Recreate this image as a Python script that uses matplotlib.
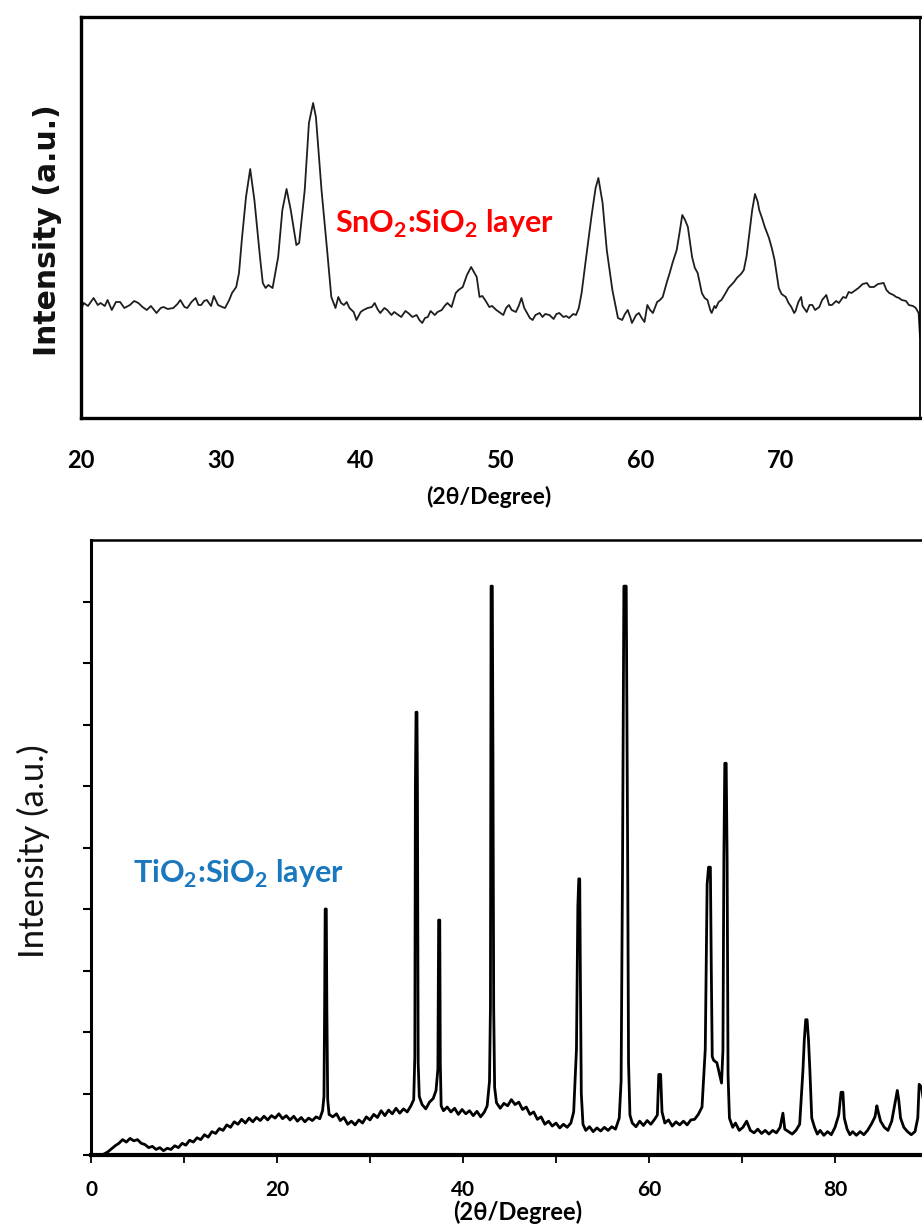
import matplotlib
matplotlib.use("Agg")
import matplotlib.pyplot as plt

# ---------------- data: SnO2:SiO2 layer (top panel) ----------------
sn_theta = [20.0, 20.1, 20.2, 20.5, 20.9, 21.2, 21.4, 21.7, 21.9, 22.2, 22.5, 22.8, 23.1, 23.5,
            23.8, 24.1, 24.4, 24.7, 25.0, 25.4, 25.7, 25.9, 26.2, 26.6, 26.9, 27.1, 27.4, 27.6,
            27.9, 28.2, 28.4, 28.6, 28.8, 29.0, 29.3, 29.5, 29.8, 30.1, 30.3, 30.6, 30.8, 31.1,
            31.3, 31.5, 31.8, 32.1, 32.4, 32.8, 33.0, 33.2, 33.4, 33.7, 34.1, 34.4, 34.7, 35.0,
            35.4, 35.6, 36.0, 36.3, 36.6, 36.8, 37.2, 37.6, 37.9, 38.2, 38.4, 38.6, 38.8, 39.0,
            39.2, 39.5, 39.7, 40.0, 40.2, 40.5, 40.8, 41.0, 41.2, 41.4, 41.7, 41.9, 42.2, 42.4,
            42.7, 42.9, 43.2, 43.4, 43.7, 44.0, 44.2, 44.4, 44.6, 44.8, 45.0, 45.3, 45.5, 45.8,
            46.0, 46.2, 46.5, 46.8, 47.0, 47.3, 47.6, 47.9, 48.3, 48.5, 48.7, 48.9, 49.2, 49.4,
            49.7, 49.9, 50.2, 50.4, 50.6, 50.8, 51.1, 51.3, 51.5, 51.7, 51.9, 52.1, 52.3, 52.5,
            52.8, 53.0, 53.2, 53.5, 53.8, 54.0, 54.2, 54.5, 54.7, 54.9, 55.2, 55.4, 55.6, 55.8,
            56.1, 56.5, 56.8, 57.0, 57.3, 57.6, 58.0, 58.4, 58.7, 58.9, 59.1, 59.3, 59.4, 59.7,
            59.9, 60.1, 60.3, 60.5, 60.7, 60.9, 61.2, 61.4, 61.6, 61.9, 62.1, 62.3, 62.6, 62.8,
            63.0, 63.2, 63.4, 63.7, 63.9, 64.1, 64.4, 64.6, 64.8, 65.0, 65.1, 65.3, 65.4, 65.6,
            65.8, 66.1, 66.3, 66.5, 66.7, 66.9, 67.2, 67.4, 67.6, 67.8, 68.0, 68.2, 68.4, 68.5,
            68.7, 68.9, 69.2, 69.4, 69.6, 69.9, 70.1, 70.4, 70.6, 70.8, 71.0, 71.1, 71.3, 71.5,
            71.6, 71.9, 72.1, 72.3, 72.5, 72.8, 73.0, 73.3, 73.5, 73.7, 74.0, 74.2, 74.5, 74.7,
            74.9, 75.1, 75.4, 75.6, 75.9, 76.2, 76.4, 76.7, 77.0, 77.4, 77.6, 77.8, 78.1, 78.3,
            78.5, 78.7, 79.0, 79.2, 79.5, 79.7, 79.9, 80.0]
sn_int = [105, 112, 115, 112, 120, 113, 115, 112, 118, 108, 116, 116, 110, 113,
          117, 115, 111, 108, 112, 105, 110, 111, 109, 110, 114, 118, 111, 110,
          116, 120, 113, 113, 117, 118, 112, 122, 113, 111, 110, 118, 125, 131,
          145, 178, 221, 249, 218, 161, 135, 130, 133, 130, 161, 208, 229, 208,
          173, 175, 228, 295, 315, 301, 228, 168, 121, 110, 121, 115, 113, 116,
          110, 106, 98, 106, 108, 110, 111, 115, 109, 105, 110, 108, 103, 106,
          103, 101, 107, 105, 101, 103, 98, 95, 100, 101, 107, 103, 106, 108,
          112, 115, 111, 125, 128, 131, 143, 151, 141, 121, 122, 118, 111, 112,
          108, 106, 103, 110, 113, 108, 106, 112, 120, 110, 105, 100, 98, 103,
          105, 101, 104, 103, 99, 104, 105, 101, 102, 100, 104, 103, 110, 125,
          158, 201, 230, 240, 215, 168, 128, 100, 98, 104, 108, 100, 95, 103,
          105, 100, 96, 113, 108, 105, 116, 118, 121, 136, 145, 155, 168, 185,
          203, 198, 191, 161, 150, 145, 125, 120, 118, 108, 105, 112, 110, 116,
          118, 125, 130, 133, 136, 140, 144, 148, 162, 185, 208, 224, 216, 208,
          200, 191, 180, 170, 158, 130, 124, 121, 115, 111, 105, 107, 116, 121,
          112, 106, 113, 113, 108, 111, 118, 123, 113, 113, 117, 115, 121, 120,
          126, 125, 128, 130, 134, 135, 131, 131, 134, 135, 128, 125, 123, 121,
          120, 118, 117, 113, 112, 110, 105, 81]
sn_ticks = [20, 30, 40, 50, 60, 70]

# ---------------- data: TiO2:SiO2 layer (bottom panel), (2theta, intensity) ----------------
ti_points = [
    (1.2, 0.00), (1.8, 0.05), (2.2, 0.10), (2.6, 0.15), (3.0, 0.19), (3.4, 0.25), (3.8, 0.21),
    (4.2, 0.27), (4.6, 0.23), (5.0, 0.25), (5.4, 0.19), (5.8, 0.17), (6.2, 0.12), (6.6, 0.14),
    (7.0, 0.09), (7.4, 0.12), (7.8, 0.07), (8.2, 0.11), (8.6, 0.09), (9.0, 0.15), (9.4, 0.12),
    (9.8, 0.19), (10.2, 0.16), (10.6, 0.24), (11.0, 0.21), (11.4, 0.28), (11.8, 0.25),
    (12.2, 0.33), (12.6, 0.29), (13.0, 0.38), (13.4, 0.35), (13.8, 0.43), (14.2, 0.40),
    (14.6, 0.49), (15.0, 0.45), (15.4, 0.54), (15.8, 0.50), (16.2, 0.58), (16.6, 0.52),
    (17.0, 0.60), (17.4, 0.54), (17.8, 0.61), (18.2, 0.56), (18.6, 0.63), (19.0, 0.57),
    (19.4, 0.64), (19.8, 0.60), (20.2, 0.67), (20.6, 0.59), (21.0, 0.64), (21.4, 0.57),
    (21.8, 0.63), (22.2, 0.55), (22.6, 0.61), (23.0, 0.54), (23.4, 0.60), (23.8, 0.56),
    (24.2, 0.62), (24.6, 0.59), (24.9, 0.72), (25.05, 0.95), (25.12, 2.40), (25.18, 4.00),
    (25.30, 4.00), (25.36, 2.40), (25.45, 0.90), (25.6, 0.66), (26.0, 0.62), (26.4, 0.67),
    (26.8, 0.56), (27.2, 0.61), (27.6, 0.50), (28.0, 0.55), (28.4, 0.49), (28.8, 0.57),
    (29.2, 0.52), (29.6, 0.62), (30.0, 0.57), (30.4, 0.66), (30.8, 0.61), (31.2, 0.72),
    (31.6, 0.64), (32.0, 0.73), (32.4, 0.67), (32.8, 0.76), (33.2, 0.68), (33.6, 0.75),
    (34.0, 0.70), (34.4, 0.80), (34.7, 0.90), (34.82, 1.60), (34.88, 6.00), (34.95, 7.20),
    (35.05, 7.20), (35.10, 6.00), (35.18, 1.50), (35.3, 0.95), (35.6, 0.82), (36.0, 0.75),
    (36.4, 0.86), (36.8, 0.92), (37.1, 1.05), (37.3, 1.40), (37.38, 3.82), (37.50, 3.82),
    (37.56, 1.50), (37.65, 0.80), (37.9, 0.72), (38.3, 0.78), (38.7, 0.70), (39.1, 0.76),
    (39.5, 0.66), (39.9, 0.74), (40.3, 0.67), (40.7, 0.72), (41.1, 0.64), (41.5, 0.71),
    (41.9, 0.62), (42.3, 0.70), (42.6, 0.80), (42.85, 1.20), (42.95, 2.40), (43.02, 9.25),
    (43.15, 9.25), (43.22, 6.50), (43.30, 2.40), (43.40, 1.10), (43.6, 0.85), (44.0, 0.76),
    (44.4, 0.84), (44.8, 0.80), (45.2, 0.90), (45.6, 0.82), (46.0, 0.86), (46.4, 0.74),
    (46.8, 0.78), (47.2, 0.66), (47.6, 0.70), (48.0, 0.58), (48.4, 0.62), (48.8, 0.50),
    (49.2, 0.55), (49.6, 0.47), (50.0, 0.52), (50.4, 0.44), (50.8, 0.50), (51.2, 0.45),
    (51.6, 0.52), (51.9, 0.70), (52.2, 1.72), (52.35, 4.05), (52.45, 4.49), (52.55, 4.49),
    (52.62, 2.94), (52.72, 1.00), (52.9, 0.50), (53.2, 0.40), (53.6, 0.46), (54.0, 0.38),
    (54.4, 0.44), (54.8, 0.39), (55.2, 0.45), (55.6, 0.40), (56.0, 0.46), (56.4, 0.42),
    (56.8, 0.60), (57.0, 1.20), (57.15, 4.60), (57.30, 9.25), (57.55, 9.25), (57.70, 5.04),
    (57.80, 1.50), (57.95, 0.65), (58.2, 0.52), (58.6, 0.46), (59.0, 0.55), (59.4, 0.48),
    (59.8, 0.56), (60.2, 0.50), (60.6, 0.58), (60.9, 0.65), (61.05, 1.31), (61.25, 1.31),
    (61.4, 0.70), (61.7, 0.52), (62.1, 0.57), (62.5, 0.47), (62.9, 0.54), (63.3, 0.49),
    (63.7, 0.55), (64.1, 0.49), (64.5, 0.57), (64.9, 0.58), (65.3, 0.66), (65.7, 0.78),
    (66.05, 1.72), (66.25, 4.40), (66.4, 4.68), (66.6, 4.68), (66.7, 3.00), (66.8, 1.60),
    (66.95, 1.54), (67.3, 1.50), (67.6, 1.30), (67.8, 1.17), (67.95, 1.70), (68.05, 4.80),
    (68.15, 6.37), (68.30, 6.37), (68.40, 4.80), (68.50, 1.30), (68.65, 0.60), (69.0, 0.45),
    (69.3, 0.52), (69.7, 0.40), (70.1, 0.45), (70.5, 0.55), (70.9, 0.40), (71.3, 0.36),
    (71.7, 0.42), (72.1, 0.35), (72.5, 0.40), (72.9, 0.34), (73.3, 0.40), (73.7, 0.36),
    (74.1, 0.45), (74.4, 0.68), (74.6, 0.42), (75.0, 0.38), (75.4, 0.34), (75.8, 0.40),
    (76.2, 0.50), (76.55, 1.37), (76.7, 1.87), (76.85, 2.20), (77.0, 2.20), (77.15, 1.87),
    (77.3, 1.37), (77.5, 0.60), (77.8, 0.45), (78.1, 0.34), (78.4, 0.40), (78.8, 0.32),
    (79.2, 0.38), (79.6, 0.33), (80.0, 0.45), (80.4, 0.65), (80.65, 1.02), (80.85, 1.02),
    (81.0, 0.60), (81.3, 0.42), (81.6, 0.33), (81.9, 0.38), (82.3, 0.32), (82.7, 0.38),
    (83.1, 0.33), (83.5, 0.40), (83.9, 0.50), (84.3, 0.62), (84.5, 0.80), (84.65, 0.70),
    (84.9, 0.55), (85.3, 0.45), (85.7, 0.40), (86.1, 0.55), (86.4, 0.80), (86.7, 1.05),
    (86.85, 0.90), (87.05, 0.60), (87.4, 0.45), (87.8, 0.38), (88.2, 0.33), (88.6, 0.38),
    (88.9, 0.60), (89.05, 1.15), (89.3, 1.10), (89.6, 0.80), (90.0, 0.50),
]
ti_theta = [p[0] for p in ti_points]
ti_int = [p[1] for p in ti_points]
ti_major = [0, 20, 40, 60, 80]
ti_minor = [10, 30, 50, 70, 90]
ti_yticks = [0, 1, 2, 3, 4, 5, 6, 7, 8, 9]

W, H = 922, 1225
fig = plt.figure(figsize=(W / 100, H / 100), dpi=100)
plt.rcParams['mathtext.fontset'] = 'custom'
plt.rcParams['mathtext.bf'] = 'Lato:bold'
plt.rcParams['mathtext.rm'] = 'Lato:bold'

LATO = ['Lato', 'DejaVu Sans']


def fx(px):
    return px / W


def fy(py):
    return 1 - py / H


# ---------------- top panel ----------------
ax1 = fig.add_axes([fx(81), fy(418), (920 - 81) / W, (418 - 17) / H])
ax1.plot(sn_theta, sn_int, color='#1e1e1e', lw=1.3)
ax1.set_xlim(20, 80)
ax1.set_ylim(0, 401)
ax1.set_yticks([])
ax1.set_xticks(sn_ticks)
ax1.set_xticklabels([str(t) for t in sn_ticks], fontfamily=LATO,
                    fontweight='bold', fontsize=17)
ax1.tick_params(axis='x', length=0, pad=22)
for s in ['left', 'top', 'bottom']:
    ax1.spines[s].set_linewidth(2.4)
ax1.spines['right'].set_linewidth(1.3)

fig.text(fx(48), fy(230), 'Intensity (a.u.)', rotation=90, ha='center', va='center',
         fontfamily='DejaVu Sans', fontweight='bold', fontsize=21.5, color='#111111')
fig.text(fx(489), fy(497), '(2θ/Degree)', ha='center', va='center',
         fontfamily=LATO, fontweight='bold', fontsize=16.5)
fig.text(fx(335), fy(233), r'SnO$_\mathbf{2}$:SiO$_\mathbf{2}$ layer', ha='left', va='baseline',
         fontfamily=LATO, fontweight='bold', fontsize=22, color='#ff0000')

# ---------------- bottom panel ----------------
ax2 = fig.add_axes([fx(91), fy(1155), (933 - 91) / W, (1155 - 540) / H])
ax2.plot(ti_theta, ti_int, color='black', lw=2.0)
ax2.set_xlim(0, (933 - 91) / 9.3)
ax2.set_ylim(0, 10)
ax2.set_xticks(ti_major)
ax2.set_xticks(ti_minor, minor=True)
ax2.set_xticklabels([str(t) for t in ti_major], fontfamily=LATO,
                    fontweight='bold', fontsize=15)
ax2.set_yticks(ti_yticks)
ax2.set_yticklabels([])
ax2.tick_params(axis='x', which='both', direction='out', length=6, width=1.3, pad=12)
ax2.tick_params(axis='y', direction='out', length=6, width=1.5)
ax2.spines['bottom'].set_linewidth(3.0)
ax2.spines['left'].set_linewidth(2.2)
ax2.spines['top'].set_linewidth(1.8)
ax2.spines['right'].set_visible(False)

fig.text(fx(33), fy(851), 'Intensity (a.u.)', rotation=90, ha='center', va='center',
         fontfamily='Lato', fontsize=25, color='#111111')
fig.text(fx(518), fy(1212), '(2θ/Degree)', ha='center', va='center',
         fontfamily=LATO, fontweight='bold', fontsize=17)
fig.text(fx(133), fy(883), r'TiO$_\mathbf{2}$:SiO$_\mathbf{2}$ layer', ha='left', va='baseline',
         fontfamily=LATO, fontweight='bold', fontsize=22, color='#1a78be')

fig.savefig('out.png', dpi=100)
